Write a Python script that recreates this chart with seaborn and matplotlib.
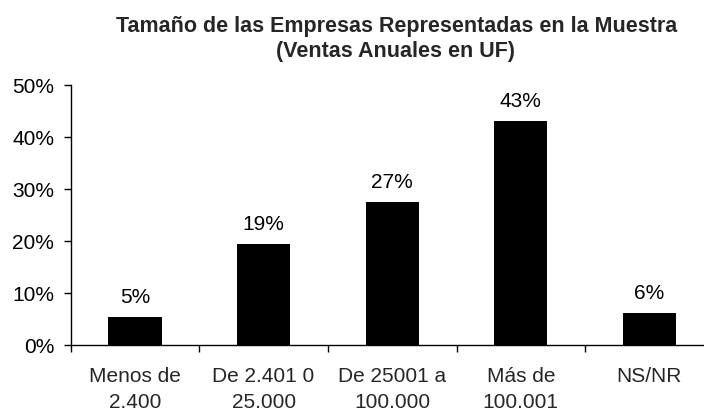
import pandas as pd
import numpy as np
import matplotlib.pyplot as plt
import seaborn as sns
from matplotlib.ticker import PercentFormatter, FixedLocator

# tamano de empresas (ventas anuales en UF)
categories = ["Menos de\n2.400", "De 2.401 0\n25.000", "De 25001 a\n100.000", "Más de\n100.001", "NS/NR"]
shares = [5.3, 19.4, 27.4, 43.0, 6.15]
yticks = [0, 10, 20, 30, 40, 50]

data = pd.DataFrame({"tamano": categories, "pct": shares})

sns.set_style("ticks")
plt.rcParams['font.family'] = ['Liberation Sans', 'DejaVu Sans']

fig = plt.figure(figsize=(7.04, 4.14), dpi=100)
ax = fig.add_axes([70.7/704, 68.3/414, 643.0/704, 260.0/414])

sns.barplot(x='tamano', y='pct', data=data, color='black', width=0.415,
            edgecolor='none', saturation=1, ax=ax)

ax.bar_label(ax.containers[0], fmt='{:.0f}%', padding=8, fontsize=15, color='black')

ax.set_ylim(0, 50)
ax.set_xlim(-0.5, 4.5)
ax.set_yticks(yticks)
ax.yaxis.set_major_formatter(PercentFormatter(xmax=100, decimals=0))
ax.tick_params(axis='y', length=5, width=1, pad=7, labelsize=15, colors='black')
ax.tick_params(axis='x', which='major', length=0, pad=15, labelsize=15)
ax.xaxis.set_minor_locator(FixedLocator(np.arange(-0.5, 5, 1)))
ax.tick_params(axis='x', which='minor', length=5, width=1, color='black')
for lbl in ax.get_xticklabels():
    lbl.set_linespacing(1.5)

ax.set(xlabel=None, ylabel=None)
sns.despine(ax=ax)
for s in ['left', 'bottom']:
    ax.spines[s].set_color('black')
    ax.spines[s].set_linewidth(1)

fig.text(397/704, 1 - 32/414, "Tamaño de las Empresas Representadas en la Muestra",
         ha='center', va='baseline', fontsize=15.5, fontweight='bold')
fig.text(396/704, 1 - 57/414, "(Ventas Anuales en UF)",
         ha='center', va='baseline', fontsize=15.5, fontweight='bold')

plt.savefig('out.png', dpi=100)
